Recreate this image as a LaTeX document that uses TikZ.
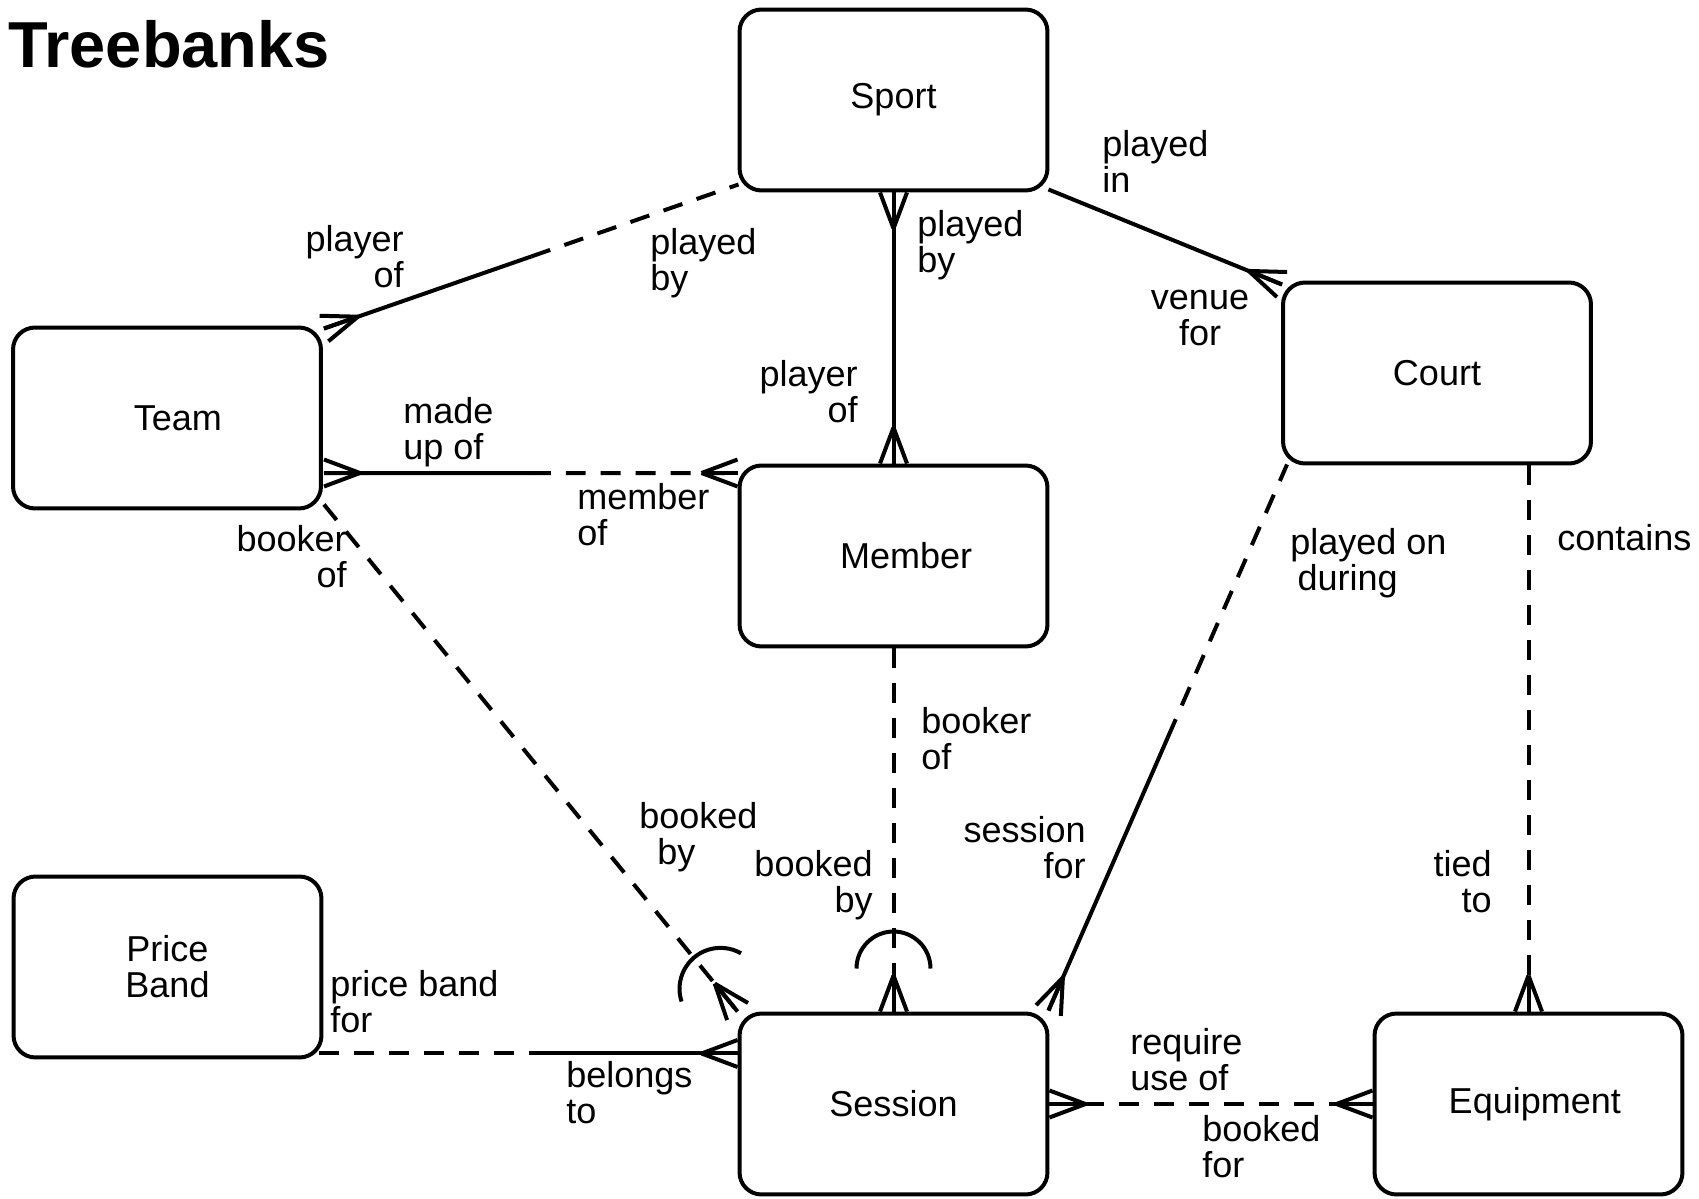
\documentclass[tikz,border=0pt]{standalone}
\usepackage{fontspec}
\setmainfont{Liberation Sans}
\usetikzlibrary{calc}

\newcommand{\lblsize}{\fontsize{20.5}{20.5}\selectfont}
\newcommand{\titlesize}{\fontsize{37}{40}\selectfont}
% crow's foot: #1 end on the entity, #2 the other end
\newcommand{\crowfoot}[2]{%
    \draw[rel] ($(#1)!0.72cm!(#2)$) -- ($(#1)!0.27cm!90:(#2)$);
    \draw[rel] ($(#1)!0.72cm!(#2)$) -- ($(#1)!0.27cm!-90:(#2)$);
    \draw[rel] ($(#1)!0.72cm!(#2)$) -- (#1);}

\begin{document}
\begin{tikzpicture}[x=0.02cm, y=-0.02cm,
    rel/.style={line width=0.08cm},
    opt/.style={rel, dash pattern=on 0.4cm off 0.3cm},
    entity/.style={draw, line width=0.08cm, rounded corners=0.44cm,
        minimum width=6.16cm, minimum height=3.62cm, align=center, font=\lblsize},
    lbl/.style={font=\lblsize, inner sep=0pt, align=left, anchor=north west},
    lblr/.style={font=\lblsize, inner sep=0pt, align=right, anchor=north east}]
    \useasboundingbox (0,0) rectangle (1699,1199);

    \node[anchor=north west, inner sep=0pt, font=\titlesize\bfseries] (title) at (8,20) {Treebanks};

    % entities
    \node[entity] (sport) at (893.5,100) {Sport};
    \node[entity] (team) at (167,418) {\hspace*{0.6em}Team};
    \node[entity] (member) at (893.5,556) {\hspace*{0.7em}Member};
    \node[entity] (court) at (1437,373) {Court};
    \node[entity] (priceband) at (167.5,967) {Price\\Band};
    \node[entity] (session) at (893.5,1104) {Session};
    \node[entity] (equipment) at (1528.5,1104) {\hspace*{0.35em}Equipment};

    % end points of the relationships
    \coordinate (tsA) at ([shift={(1,3)}]team.north east);
    \coordinate (tsB) at ([shift={(1,-8)}]sport.south west);
    \coordinate (scA) at ([shift={(-1,-3)}]sport.south east);
    \coordinate (scB) at ([shift={(1,4)}]court.north west);
    \coordinate (tmA) at ([shift={(1,55)}]team.east);
    \coordinate (tmB) at (tmA -| member.west);
    \coordinate (tbA) at ([shift={(1,-6)}]team.south east);
    \coordinate (csA) at ([shift={(6,-1)}]court.south west);
    \coordinate (csB) at ([shift={(-1,-1)}]session.north east);
    \coordinate (ceA) at (court.south -| equipment.north);
    \coordinate (psA) at ([shift={(-4,-6)}]priceband.south east);
    \coordinate (psB) at (psA -| session.west);

    % team - sport
    \draw[rel] (tsA) -- ($(tsA)!.5!(tsB)$);
    \draw[opt] ($(tsA)!.5!(tsB)$) -- (tsB);
    \crowfoot{tsA}{tsB}
    % sport - member
    \draw[rel] (sport.south) -- (member.north);
    \crowfoot{sport.south}{member.north}
    \crowfoot{member.north}{sport.south}
    % sport - court
    \draw[rel] (scA) -- (scB);
    \crowfoot{scB}{scA}
    % team - member
    \draw[rel] (tmA) -- ($(tmA)!.5!(tmB)$);
    \draw[opt] ($(tmA)!.5!(tmB)$) -- (tmB);
    \crowfoot{tmA}{tmB}
    \crowfoot{tmB}{tmA}
    % team - session
    \draw[opt] (tbA) -- (session.north west);
    \crowfoot{session.north west}{tbA}
    \draw[rel] ([shift={(-56,-10)}]session.north west) arc[start angle=-198, end angle=-60, radius=41];
    % member - session
    \draw[opt] (member.south) -- (session.north);
    \crowfoot{session.north}{member.south}
    \draw[rel] ([shift={(-37,-43)}]session.north) arc[start angle=180, end angle=360, radius=37];
    % court - session
    \draw[rel] (csB) -- ($(csB)!.5!(csA)$);
    \draw[opt] ($(csB)!.5!(csA)$) -- (csA);
    \crowfoot{csB}{csA}
    % court - equipment
    \draw[opt] (ceA) -- (equipment.north);
    \crowfoot{equipment.north}{ceA}
    % price band - session
    \draw[opt] (psA) -- ($(psA)!.5!(psB)$);
    \draw[rel] ($(psA)!.5!(psB)$) -- (psB);
    \crowfoot{psB}{psA}
    % session - equipment
    \draw[opt] (session.east) -- (equipment.west);
    \crowfoot{session.east}{equipment.west}
    \crowfoot{equipment.west}{session.east}

    % relationship names
    \node[lblr] (l-playerof1) at (404,225) {player\\of};
    \node[lbl] (l-playedby1) at (650,228) {played\\by};
    \node[lbl] (l-playedby2) at (917,210) {played\\by};
    \node[lblr] (l-playerof2) at (858,360) {player\\of};
    \node[lbl] (l-playedin) at (1102,130) {played\\in};
    \node[lbl, align=center, anchor=north] (l-venuefor) at (1200,290) {venue\\for};
    \node[lbl] (l-madeupof) at (403,397) {made\\up of};
    \node[lbl] (l-memberof) at (577,483) {member\\of};
    \node[lblr] (l-bookerof1) at (347,525) {booker\\of};
    \node[lbl] (l-bookedby1) at (639,802) {booked\\\hspace*{0.5em}by};
    \node[lblr] (l-bookedby2) at (873,850) {booked\\by};
    \node[lbl] (l-bookerof2) at (921,707) {booker\\of};
    \node[lblr] (l-sessionfor) at (1086,816) {session\\for};
    \node[lbl] (l-playedon) at (1290,528) {played on\\\hspace*{0.2em}during};
    \node[lbl] (l-contains) at (1557,524) {contains};
    \node[lblr] (l-tiedto) at (1492,850) {tied\\to};
    \node[lbl] (l-pricebandfor) at (330,970) {price band\\for};
    \node[lbl] (l-belongsto) at (566,1061) {belongs\\to};
    \node[lbl] (l-requireuse) at (1130,1028) {require\\use of};
    \node[lbl] (l-bookedfor) at (1202,1115) {booked\\for};
\end{tikzpicture}
\end{document}
